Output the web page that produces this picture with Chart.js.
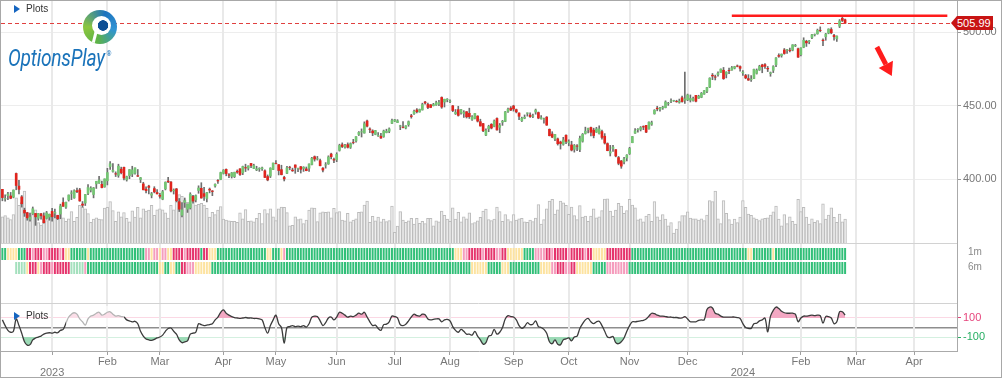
<!DOCTYPE html>
<html>
<head>
<meta charset="utf-8">
<script src="https://cdn.jsdelivr.net/npm/chart.js@4.4.1/dist/chart.umd.min.js"></script>
<style>
  body { margin:0; background:#fff; }
  #frame { position:relative; width:1002px; height:378px; overflow:hidden; background:#fff;
           font-family:'Liberation Sans', Arial, sans-serif; }
  #frame canvas { position:absolute; left:0; }
  #border { position:absolute; left:0; top:0; width:1002px; height:378px; box-sizing:border-box;
            border:1px solid #a8a8a8; pointer-events:none; z-index:10; }
  .plots { position:absolute; font-size:10px; color:#333; z-index:5; line-height:12px; }
  .plots i { display:inline-block; width:0; height:0; border-left:6px solid #1565c0;
             border-top:4px solid transparent; border-bottom:4px solid transparent; margin-right:6px; vertical-align:-1px; }
  .side { position:absolute; left:968px; font-size:10px; color:#8a8a8a; }
  #badge { position:absolute; left:951px; width:42px; height:14px; background:#c81414; color:#fff;
           font-size:11px; line-height:14px; padding-left:6px; box-sizing:border-box; z-index:6; white-space:nowrap;
           clip-path:polygon(0 50%, 6px 0, 100% 0, 100% 100%, 6px 100%); }
  #ball { position:absolute; left:83px; top:10px; width:34px; height:34px; border-radius:50%; z-index:4;
          background:conic-gradient(from 20deg, #1d73be 0deg, #2f94d4 80deg, #5db247 170deg, #8cc63e 250deg, #1d73be 360deg); }
  #ball::before { content:''; position:absolute; left:11px; top:15px; width:3px; height:18px; background:#fff;
                  transform:rotate(14deg); }
  #ball::after { content:''; position:absolute; left:9px; top:6px; width:19px; height:19px; border-radius:50%;
                 background:radial-gradient(circle at 58% 50%, #0e4f94 0 5px, #fff 5.5px); }
  #brand { position:absolute; left:8px; top:44px; font-family:Roboto, 'Liberation Sans', sans-serif; font-style:italic;
           font-size:24px; color:#1a73ba; transform:scaleX(0.8); transform-origin:left top; z-index:4; letter-spacing:-0.3px; }
  #brand sup { font-size:8px; font-style:normal; vertical-align:10px; margin-left:2px; }
  #fade { position:absolute; left:66px; top:306px; width:58px; height:20px; background:rgba(255,255,255,0.62); z-index:3; }
</style>
</head>
<body>
<div id="frame">
  <canvas id="price" width="1002" height="243" style="top:0"></canvas>
  <canvas id="strips" width="1002" height="61" style="top:243px"></canvas>
  <canvas id="osc" width="1002" height="74" style="top:304px"></canvas>
  <div id="ball"></div>
  <div id="brand">OptionsPlay<sup>®</sup></div>
  <div class="plots" style="left:14px;top:3px"><i></i>Plots</div>
  <div class="plots" style="left:14px;top:310px"><i></i>Plots</div>
  <div class="side" style="top:246px">1m</div>
  <div class="side" style="top:261px">6m</div>
  <div id="fade"></div>
  <div id="badge"></div>
  <div id="border"></div>
</div>
<script>
// daily bars, Dec 6 2022 .. Feb 26 2024, then empty slots to late April
const slotCount = 346;
const slots = Array.from({length: slotCount}, (_, i) => i);

// first trading day of each month (slot index) and its axis label
const monthTicks = [[18,'2023'],[38,'Feb'],[57,'Mar'],[80,'Apr'],[99,'May'],[121,'Jun'],[142,'Jul'],[162,'Aug'],
  [185,'Sep'],[205,'Oct'],[227,'Nov'],[248,'Dec'],[268,'2024'],[289,'Feb'],[309,'Mar'],[330,'Apr']];

const opens = [
393.0,386.5,388.7,388.5,387.7,403.8,395.2,387.9,378.8,377.1,
372.6,376.4,376.6,373.3,376.4,374.9,373.2,374.2,378.0,376.8,
375.3,376.2,384.0,380.9,385.8,390.3,387.2,392.1,392.6,383.0,
383.7,390.3,392.5,389.5,396.7,397.3,396.4,394.7,398.8,408.5,
405.2,403.6,402.5,406.7,408.0,399.5,402.3,403.4,404.0,402.3,
399.7,396.7,393.1,395.2,389.0,393.5,390.8,389.0,386.3,393.3,
398.6,398.0,392.0,393.3,384.6,375.4,384.1,379.5,380.4,388.2,
385.8,392.2,393.7,390.1,386.8,393.1,391.9,395.3,399.0,399.7,
403.9,406.6,402.9,401.8,401.6,405.3,406.9,404.2,407.8,407.4,
410.6,407.2,406.2,406.9,407.0,405.6,401.7,402.0,406.5,410.6,
409.8,406.4,401.1,403.9,408.0,406.1,409.6,407.0,408.4,407.2,
406.9,407.4,409.9,415.2,413.6,412.5,407.4,409.5,410.3,417.0,
413.3,413.1,419.5,423.3,421.7,423.4,421.6,425.0,425.9,430.3,
432.0,431.3,439.5,434.0,432.7,430.4,429.4,429.1,428.9,431.6,
432.5,437.9,439.4,438.4,435.9,435.3,434.7,437.0,443.0,444.4,
447.0,445.6,447.0,452.4,450.7,450.5,449.9,450.4,451.0,455.5,
452.4,453.9,452.8,449.8,444.5,447.2,445.2,444.6,445.8,444.7,
440.5,441.2,442.8,439.0,437.7,429.9,434.1,437.2,435.8,441.2,
435.2,438.7,439.2,446.0,448.2,449.7,447.2,444.9,439.6,441.4,
444.7,443.5,442.7,445.6,445.2,441.1,440.6,442.1,433.8,430.6,
427.3,427.3,425.2,423.6,429.8,424.7,423.2,420.2,422.5,420.1,
425.7,431.0,433.7,435.1,433.3,431.9,430.9,432.3,429.1,424.1,
417.7,420.8,420.0,414.6,412.3,411.7,414.3,417.3,424.7,431.2,
433.6,433.8,435.7,436.5,434.1,437.3,444.4,448.2,447.3,448.3,
448.6,451.3,452.9,453.2,452.8,452.2,455.3,453.6,453.9,453.7,
453.4,456.9,455.0,455.6,457.8,459.7,462.6,470.6,469.5,471.0,
472.5,474.0,471.3,473.9,474.1,475.4,476.9,476.5,472.2,470.4,
468.3,467.5,468.4,471.9,474.2,477.6,477.8,475.3,471.8,474.0,
477.7,484.0,484.0,487.8,487.6,487.6,487.7,490.6,488.6,484.6,
489.6,493.7,493.5,496.3,498.1,498.8,501.2,494.5,496.8,499.3,
501.7,497.7,495.4,504.0,509.3,508.3];

const highs = [
393.0,389.2,391.0,390.9,392.6,404.1,399.1,388.8,380.2,377.4,
376.6,381.0,376.6,376.7,376.7,377.0,378.0,376.2,380.0,379.5,
375.4,382.9,387.3,384.3,389.2,392.1,392.7,393.8,393.7,384.7,
389.6,396.2,394.8,394.3,398.5,401.8,398.7,400.1,407.3,411.9,
410.6,404.9,410.1,408.1,408.2,402.0,406.5,408.7,407.7,406.5,
401.1,397.8,394.7,395.8,390.9,394.8,392.9,390.3,392.3,398.1,
401.1,398.3,393.3,393.6,386.8,384.0,387.1,383.1,390.7,389.0,
389.2,395.4,397.5,394.3,391.0,393.9,392.2,396.8,399.6,404.7,
406.4,406.9,403.7,404.5,404.7,406.2,407.2,408.8,410.1,409.0,
410.7,410.1,408.7,407.7,408.1,406.2,402.8,407.7,410.9,412.6,
409.8,409.4,401.9,408.7,408.7,407.4,409.6,407.4,408.6,408.4,
408.2,410.4,414.7,415.7,415.4,413.5,407.8,411.2,415.8,417.6,
414.2,417.9,423.7,424.6,423.6,424.6,424.6,427.0,428.9,432.3,
434.1,438.9,440.1,434.9,433.5,433.1,431.6,431.1,433.3,433.9,
434.8,440.8,440.6,440.4,436.6,439.1,436.3,439.5,444.0,446.9,
447.9,447.6,451.6,452.9,451.6,450.7,451.5,453.0,453.5,455.9,
454.3,454.7,453.8,450.1,447.3,449.5,447.4,446.5,445.9,448.2,
443.2,444.6,443.1,440.7,437.9,434.1,436.6,437.7,440.2,441.7,
437.8,439.9,446.0,448.2,449.3,450.2,447.6,445.0,442.1,443.6,
445.0,445.0,444.2,447.6,445.6,443.1,441.4,442.5,434.1,432.2,
430.4,427.9,425.8,428.4,430.0,426.7,425.7,423.5,423.5,429.2,
431.0,435.3,434.7,435.4,434.6,435.2,436.2,433.3,430.9,424.6,
422.9,422.9,420.0,415.4,412.7,414.8,416.6,421.6,429.0,434.4,
434.3,435.7,436.2,436.6,439.0,439.4,447.2,449.5,448.7,449.5,
453.2,452.2,454.5,453.6,453.6,454.4,456.4,472.8,457.8,457.2,
455.7,456.9,457.0,458.9,460.3,462.3,468.9,471.8,470.7,473.0,
474.9,475.9,473.0,475.4,476.6,476.7,477.6,477.0,473.7,471.2,
471.0,470.4,474.8,474.9,477.4,478.1,478.6,476.6,472.8,477.1,
482.7,485.2,485.1,488.8,488.3,489.1,491.4,491.6,489.1,489.3,
496.1,494.4,494.3,498.5,498.7,502.0,503.5,495.4,499.1,502.2,
502.9,498.4,497.4,508.5,510.1,508.8];

const lows = [
385.2,385.0,385.9,386.6,387.2,392.7,389.9,380.9,374.6,372.0,
371.4,375.9,368.5,372.0,372.7,370.0,372.7,372.0,371.4,373.6,
372.4,373.0,381.3,380.0,385.0,386.0,386.9,390.7,384.9,380.9,
382.0,389.3,391.2,387.2,393.6,397.0,393.9,394.4,396.0,406.5,
404.7,401.7,401.2,403.5,399.4,398.6,400.2,401.6,403.4,401.7,
397.6,392.6,390.6,389.9,387.2,390.6,389.8,387.0,385.9,392.6,
397.6,391.2,389.8,384.5,377.9,374.3,380.7,377.3,379.6,383.6,
384.4,390.3,387.0,385.4,384.4,390.6,388.7,394.5,397.1,399.5,
403.4,402.2,400.9,400.7,401.0,403.9,402.4,403.0,405.1,406.1,
407.8,407.1,405.7,405.2,405.9,401.0,398.8,401.0,406.4,410.3,
402.8,402.8,398.7,403.6,406.3,405.2,403.9,405.0,404.1,405.2,
405.6,405.2,409.6,412.2,412.9,409.0,404.9,407.4,410.0,413.7,
411.2,411.8,419.0,421.4,421.0,421.1,420.8,423.9,425.1,429.6,
428.6,431.2,435.5,431.5,429.5,430.1,429.0,427.7,428.4,431.4,
431.5,437.6,439.1,438.4,433.6,434.8,434.1,435.9,441.4,444.0,
444.9,445.5,446.9,451.0,447.9,448.5,449.7,450.1,449.9,448.1,
449.0,452.5,452.0,445.8,443.9,442.8,444.1,441.9,441.5,441.2,
439.8,440.9,438.8,436.0,432.2,429.5,432.2,434.1,435.5,433.3,
431.5,436.5,439.0,445.3,446.5,446.2,445.0,440.3,439.1,441.0,
442.8,441.9,441.7,444.1,441.0,440.7,438.0,436.5,429.3,428.1,
426.1,423.1,420.4,423.0,424.0,422.6,419.1,418.3,419.3,418.7,
425.1,430.6,431.3,429.3,428.0,431.7,430.6,427.2,423.8,419.2,
415.7,418.8,415.1,409.7,407.3,410.3,412.3,416.7,424.7,431.1,
431.8,432.7,433.6,431.6,433.9,436.5,444.1,446.4,446.1,447.4,
448.4,450.1,452.0,452.8,452.2,451.6,452.3,451.5,453.3,452.4,
453.0,452.4,454.8,455.3,457.6,458.7,462.2,467.6,467.4,469.9,
472.5,467.8,468.8,471.7,474.0,474.9,476.3,473.3,470.5,468.2,
467.1,466.4,468.3,471.4,473.9,472.3,475.2,473.1,469.9,472.4,
476.5,482.8,482.9,484.9,485.4,486.5,487.2,490.1,482.8,483.8,
489.3,490.2,492.0,495.4,497.3,498.5,500.2,490.7,494.4,498.8,
498.8,494.5,493.6,503.0,507.1,505.9];

const closes = [
387.4,386.8,389.8,386.9,392.5,395.6,393.0,383.2,376.9,373.6,
374.1,379.8,374.3,376.5,375.0,370.3,377.0,376.0,374.4,377.4,
373.0,381.7,381.5,384.2,389.1,390.6,392.1,391.4,385.1,382.2,
389.5,394.2,393.8,394.0,398.4,399.3,394.2,400.1,404.4,410.4,
406.0,403.4,408.8,404.3,400.7,401.6,406.4,406.2,407.6,401.9,
400.9,392.7,392.1,394.3,390.0,391.3,389.9,388.3,391.4,397.8,
398.1,391.9,392.5,385.2,379.5,379.0,385.3,382.9,389.7,385.0,
388.7,393.9,387.1,388.2,390.8,392.5,391.5,396.4,398.7,404.4,
406.0,403.7,402.6,404.2,404.6,404.7,403.1,408.5,407.5,408.9,
409.2,409.2,406.9,407.2,407.6,401.1,399.4,407.4,410.9,410.5,
405.8,403.0,400.1,407.6,407.9,405.6,407.9,407.2,406.6,408.0,
405.7,410.2,414.2,413.6,413.8,409.1,406.1,409.7,415.0,415.2,
412.9,416.8,422.9,422.1,423.0,421.6,424.1,424.9,428.8,431.7,
432.2,437.6,436.0,433.7,431.4,433.0,429.7,427.9,432.7,432.5,
434.1,439.8,440.3,439.6,436.2,435.1,436.2,439.0,442.5,446.1,
445.8,447.3,450.7,451.7,448.7,448.7,450.7,451.9,452.0,449.0,
454.3,454.3,453.0,446.6,445.3,443.3,447.2,445.3,442.3,442.4,
442.2,444.6,439.4,436.1,432.8,433.0,435.8,434.7,439.5,433.4,
436.5,439.3,445.7,447.5,446.9,447.7,445.7,442.7,441.4,442.0,
445.0,442.5,443.0,446.9,441.5,441.7,440.8,436.7,429.5,428.5,
430.3,424.0,424.2,426.6,425.6,425.4,419.7,422.8,422.3,427.6,
430.4,432.6,434.4,431.8,429.6,434.1,434.1,428.3,424.5,419.3,
418.6,421.7,415.7,410.7,408.8,413.7,416.3,420.8,428.9,432.8,
433.8,435.0,435.4,431.9,438.7,438.3,446.8,447.8,448.3,448.9,
452.4,451.4,453.1,453.4,452.6,453.0,452.7,454.5,457.2,454.8,
454.7,452.9,456.3,458.3,460.1,462.2,468.6,470.1,469.3,472.0,
474.8,468.3,472.7,473.7,475.7,476.5,476.7,475.3,472.7,468.8,
467.3,467.9,474.6,473.9,476.6,476.4,476.7,474.9,472.3,476.5,
482.4,483.5,484.9,485.4,488.0,487.4,491.3,490.9,482.9,489.2,
494.4,492.6,494.0,498.1,498.3,501.2,501.0,494.1,498.6,502.0,
499.5,496.8,497.2,507.5,507.9,505.99];

// volume, millions of shares
const volumes = [
76,79,73,68,82,131,109,117,150,80,88,82,96,59,52,70,65,84,
74,85,77,105,73,63,70,91,63,74,109,104,99,85,60,69,73,69,68,101,
103,120,94,63,90,76,88,71,61,93,75,103,73,99,92,95,109,80,96,
99,96,87,72,109,96,120,140,135,125,118,112,138,110,112,115,110,100,75,89,82,95,105,
69,66,64,63,63,60,87,70,97,63,64,61,71,86,56,97,85,99,76,
65,99,104,103,88,50,51,76,68,70,56,66,95,102,101,62,87,90,89,90,73,100,
88,91,66,64,86,61,66,70,89,90,110,121,60,77,64,75,61,69,62,65,107,
31,49,91,66,60,64,71,55,71,57,63,56,71,71,50,64,61,92,80,69,
63,102,69,89,61,76,70,87,56,59,64,74,92,98,68,65,69,104,91,63,82,68,62,
82,66,70,71,61,60,66,62,72,111,55,68,99,121,126,84,96,121,116,109,
83,104,79,68,108,75,78,63,78,99,73,76,94,127,128,92,78,95,115,107,86,94,
126,110,102,67,70,61,78,83,63,120,76,66,82,69,50,59,29,40,62,79,79,
90,72,70,70,66,70,65,81,123,120,150,70,56,123,86,68,55,69,59,75,
123,103,84,80,73,69,65,70,71,73,81,90,107,69,50,82,56,76,63,55,126,
91,103,75,55,70,60,65,56,113,69,81,102,74,60,84,61,69];

// oscillator (CCI style) values
const cci = [
80,20,-30,-50,-40,90,20,-60,-150,-185,
-180,-130,-110,-100,-90,-70,-60,-55,-60,-50,
-55,-30,-20,45,110,140,155,140,90,60,
25,90,120,130,150,160,130,140,160,165,
140,120,125,115,110,80,70,60,65,40,
-40,-90,-120,-130,-135,-125,-110,-100,-80,-40,
-10,-5,-40,-70,-130,-160,-150,-140,-70,-60,
-50,40,30,20,25,30,40,80,110,160,
185,150,130,115,105,100,95,100,105,100,
100,95,95,90,80,0,-60,20,80,130,
40,0,-165,0,10,20,10,15,10,20,
5,40,110,120,115,70,20,50,100,110,
80,110,160,150,130,110,120,115,130,150,
140,160,110,60,20,25,-10,-30,30,35,
60,120,115,100,30,20,35,70,110,140,
125,120,140,135,90,80,85,90,90,60,
80,85,70,10,-30,-50,-20,-40,-70,-70,
-80,-40,-90,-130,-175,-160,-90,-80,-20,-70,
-50,0,90,125,115,110,80,20,-10,10,
50,30,35,70,10,0,-20,-60,-150,-170,
-130,-175,-180,-130,-120,-110,-140,-100,-90,-10,
40,80,95,60,40,60,65,20,-40,-100,
-105,-95,-160,-170,-150,-110,-40,20,60,60,
65,70,75,90,120,150,145,130,120,120,
115,110,110,105,105,100,100,115,90,60,
60,60,75,80,80,190,215,205,150,140,
120,110,110,110,110,110,105,95,40,0,
-10,-10,40,45,70,80,100,-45,120,180,
215,200,170,155,150,150,150,140,60,100,
120,120,125,130,125,130,125,45,115,115,
100,40,60,165,165,130];

// 1m / 6m performance strips, run-length: [state, days]
const strip1m = [['G',2],['Y',4],['G',3],['R',2],['P',1],['R',3],['P',2],['R',4],['P',1],['R',1],['Y',2],['G',6],['Y',1],
  ['G',20],['P',2],['Y',1],['P',2],['Y',1],['P',2],['Y',2],['R',4],['P',1],['R',5],['G',1],['R',2],['Y',3],['G',18],['Y',2],
  ['G',3],['Y',1],['P',1],['G',61],['Y',3],['P',2],['R',5],['P',1],['R',4],['P',2],['R',2],['Y',2],['Y',4],['G',4],['P',4],
  ['R',2],['P',1],['R',5],['P',1],['R',5],['P',1],['R',2],['Y',5],['R',9],['G',42],['Y',2],['G',7],['Y',1],['G',26]];
const strip6m = [['-',5],['L',4],['Y',1],['R',3],['Y',1],['P',1],['R',3],['P',1],['R',6],['L',5],['P',1],['G',26],['Y',2],
  ['G',2],['Y',2],['G',2],['R',2],['P',3],['Y',6],['G',94],['Y',6],['G',5],['Y',3],['G',11],['Y',4],['P',2],['R',3],['P',2],
  ['R',2],['Y',6],['G',5],['P',8],['G',79]];

const priceTicks = [400, 450, 500];
const cciTicks = [-100, 0, 100];
const lastClose = closes[closes.length - 1];
// drawn resistance line and arrow (slot index, price)
const trendFrom = 264, trendTo = 342, trendLevel = 511;
const arrowFrom = [316.5, 489.8], arrowTo = [321.9, 470.1];

const GREEN = '#74c673', RED = '#e0241d', WICK = '#6e6e6e';
const stripColors = { G:'#31bf78', L:'#a4e0bd', Y:'#fde3a0', P:'#f59dbd', R:'#e5346c' };

Chart.defaults.font.family = "'Liberation Sans', Arial, sans-serif";
Chart.defaults.font.size = 11;
Chart.defaults.animation = false;

const monthSet = new Set(monthTicks.map(m => m[0]));
const expand = runs => runs.flatMap(([c, n]) => Array(n).fill(c));
// right axis: fixed width, no extra room for half tick labels
const fitRight = s => { s.width = 45; s.paddingTop = 0; s.paddingBottom = 0; };

const monthGrid = {
  id: 'monthGrid',
  beforeDatasetsDraw(chart) {
    const { ctx, chartArea: a, scales: { x } } = chart;
    ctx.save();
    ctx.strokeStyle = '#e9e9e9';
    ctx.lineWidth = 2;
    monthTicks.forEach(([i]) => {
      const px = Math.round(x.getPixelForValue(i));
      ctx.beginPath(); ctx.moveTo(px, a.top); ctx.lineTo(px, a.bottom); ctx.stroke();
    });
    ctx.restore();
  }
};

const noLegend = { legend: { display: false }, tooltip: { enabled: false } };
const xHidden = { type: 'category', offset: true, display: false, grid: { offset: false } };

// ---- price + volume
const priceMarks = {
  id: 'priceMarks',
  afterDatasetsDraw(chart) {
    const { ctx, chartArea: a, scales: { x, y } } = chart;
    ctx.save();
    // last close
    const yl = Math.round(y.getPixelForValue(lastClose)) + 0.5;
    ctx.strokeStyle = '#e0403f'; ctx.lineWidth = 1; ctx.setLineDash([4, 3]);
    ctx.beginPath(); ctx.moveTo(a.left, yl); ctx.lineTo(a.right, yl); ctx.stroke();
    ctx.setLineDash([]);
    // resistance
    const yt = y.getPixelForValue(trendLevel);
    ctx.strokeStyle = '#ff1c1c'; ctx.lineWidth = 2.5;
    ctx.beginPath(); ctx.moveTo(x.getPixelForValue(trendFrom), yt); ctx.lineTo(x.getPixelForValue(trendTo), yt); ctx.stroke();
    // arrow
    const p0 = { x: x.getPixelForValue(arrowFrom[0]), y: y.getPixelForValue(arrowFrom[1]) };
    const p1 = { x: x.getPixelForValue(arrowTo[0]), y: y.getPixelForValue(arrowTo[1]) };
    const ang = Math.atan2(p1.y - p0.y, p1.x - p0.x);
    const head = 13, hw = 8;
    const bx = p1.x - head * Math.cos(ang), by = p1.y - head * Math.sin(ang);
    ctx.strokeStyle = ctx.fillStyle = '#ff1c1c';
    ctx.lineWidth = 5;
    ctx.beginPath(); ctx.moveTo(p0.x, p0.y); ctx.lineTo(bx, by); ctx.stroke();
    ctx.beginPath();
    ctx.moveTo(p1.x, p1.y);
    ctx.lineTo(bx + hw * Math.sin(ang), by - hw * Math.cos(ang));
    ctx.lineTo(bx - hw * Math.sin(ang), by + hw * Math.cos(ang));
    ctx.closePath(); ctx.fill();
    ctx.restore();
  }
};

const priceChart = new Chart(document.getElementById('price'), {
  type: 'bar',
  data: {
    labels: slots,
    datasets: [
      { data: opens.map((o, i) => [o, closes[i]]), backgroundColor: closes.map((c, i) => c >= opens[i] ? GREEN : RED),
        barThickness: 2, grouped: false, order: 0, yAxisID: 'y' },
      { data: lows.map((l, i) => [l, highs[i]]), backgroundColor: WICK, barThickness: 1, grouped: false, order: 1, yAxisID: 'y' },
      { data: volumes, backgroundColor: '#efefef', borderColor: '#bcbcbc', borderWidth: 1, barPercentage: 1,
        categoryPercentage: 1, grouped: false, order: 2, yAxisID: 'v' }
    ]
  },
  options: {
    responsive: false,
    layout: { padding: { left: 1, top: 1, right: 0, bottom: 0 } },
    plugins: noLegend,
    scales: {
      x: xHidden,
      y: { position: 'right', min: 356.5, max: 521.1,
           afterBuildTicks: s => { s.ticks = priceTicks.map(v => ({ value: v })); },
           afterFit: fitRight,
           ticks: { color: '#777', padding: 2, callback: v => v.toFixed(2) },
           grid: { color: '#ededed', tickColor: '#999', tickLength: 4 },
           border: { color: '#aaa' } },
      v: { display: false, min: 0, max: 700 }
    }
  },
  plugins: [monthGrid, priceMarks]
});

const badge = document.getElementById('badge');
badge.textContent = lastClose.toFixed(2);
badge.style.top = (Math.round(priceChart.scales.y.getPixelForValue(lastClose)) - 7) + 'px';

// ---- 1m / 6m strips
const row1 = expand(strip1m), row2 = expand(strip6m);
const stripEdges = {
  id: 'stripEdges',
  afterDraw(chart) {
    const { ctx, chartArea: a } = chart;
    ctx.save();
    ctx.strokeStyle = '#d2d2d2'; ctx.lineWidth = 1;
    [a.top + 0.5, a.bottom - 0.5].forEach(yy => {
      ctx.beginPath(); ctx.moveTo(0, yy); ctx.lineTo(a.right, yy); ctx.stroke();
    });
    ctx.restore();
  }
};
new Chart(document.getElementById('strips'), {
  type: 'bar',
  data: {
    labels: slots,
    datasets: [
      { data: row1.map(c => c === '-' ? null : [44, 56]), backgroundColor: row1.map(c => stripColors[c] || 'transparent'),
        barPercentage: 0.72, categoryPercentage: 1, grouped: false },
      { data: row2.map(c => c === '-' ? null : [30, 42]), backgroundColor: row2.map(c => stripColors[c] || 'transparent'),
        barPercentage: 0.72, categoryPercentage: 1, grouped: false }
    ]
  },
  options: {
    responsive: false,
    layout: { padding: { left: 1, top: 0, right: 0, bottom: 0 } },
    plugins: noLegend,
    scales: {
      x: xHidden,
      y: { position: 'right', min: 0, max: 61, afterFit: fitRight,
           ticks: { display: false }, grid: { display: false }, border: { display: true, color: '#aaa' } }
    }
  },
  plugins: [monthGrid, stripEdges]
});

// ---- oscillator + date axis
const tickText = i => {
  const m = monthTicks.find(t => t[0] === i);
  if (!m) return '';
  return /^\d{4}$/.test(m[1]) ? ['', m[1]] : m[1];
};
const cciColor = v => v > 0 ? '#e6457c' : '#26ae62';
new Chart(document.getElementById('osc'), {
  type: 'line',
  data: {
    labels: slots,
    datasets: [
      { data: cci, borderColor: '#3c3c3c', borderWidth: 1.3, pointRadius: 0, tension: 0.35,
        fill: { target: { value: 100 }, above: '#f3a8c3', below: 'rgba(0,0,0,0)' } },
      { data: cci, borderColor: 'rgba(0,0,0,0)', borderWidth: 0, pointRadius: 0, tension: 0.35,
        fill: { target: { value: -100 }, above: 'rgba(0,0,0,0)', below: '#9cdab6' } }
    ]
  },
  options: {
    responsive: false,
    layout: { padding: { left: 1, top: 0, right: 0, bottom: 0 } },
    plugins: noLegend,
    scales: {
      x: { type: 'category', offset: true, position: 'bottom',
           afterFit: s => { s.height = 27; s.paddingLeft = 0; s.paddingRight = 0; },
           grid: { offset: false, drawOnChartArea: false, tickLength: 4,
                   color: c => monthSet.has(c.index) ? '#a0a0a0' : 'rgba(0,0,0,0)' },
           border: { display: true, color: '#aaa' },
           ticks: { autoSkip: false, maxRotation: 0, minRotation: 0, padding: 1, color: '#777',
                    font: { size: 11, lineHeight: 1 }, callback: (v, i) => tickText(i) } },
      y: { position: 'right', min: -247, max: 247,
           afterBuildTicks: s => { s.ticks = cciTicks.map(v => ({ value: v })); },
           afterFit: fitRight,
           ticks: { padding: 2, callback: v => v === 0 ? '' : String(v), color: c => cciColor(c.tick.value) },
           grid: { color: c => c.tick.value === 0 ? '#8e8e8e' : (c.tick.value > 0 ? '#fbd8e4' : '#d4f0e0'),
                   lineWidth: c => c.tick.value === 0 ? 1.5 : 1,
                   tickColor: c => c.tick.value === 0 ? 'rgba(0,0,0,0)' : cciColor(c.tick.value), tickLength: 4 },
           border: { color: '#aaa' } }
    }
  },
  plugins: [monthGrid]
});
</script>
</body>
</html>
